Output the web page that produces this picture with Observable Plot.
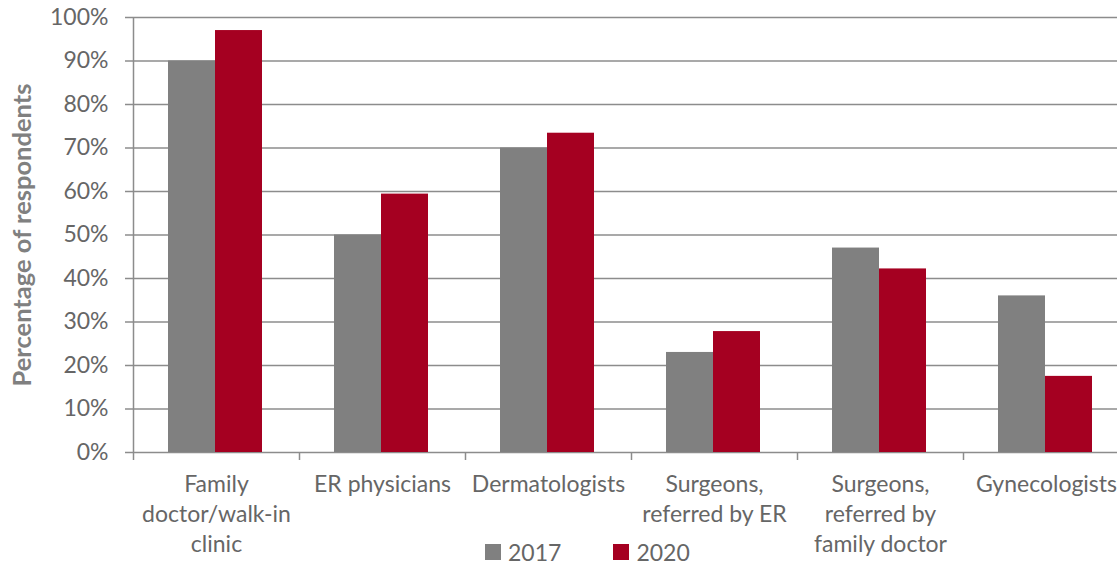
<!DOCTYPE html>
<html><head><meta charset="utf-8">
<script src="https://cdn.jsdelivr.net/npm/d3@7"></script>
<script src="https://cdn.jsdelivr.net/npm/@observablehq/plot@0.6"></script>
<style>
html,body{margin:0;padding:0;background:#fff;overflow:hidden;width:1117px;height:565px}
#chart{position:relative;width:1117px;height:565px;overflow:hidden}
#legend{position:absolute;left:485px;top:537px;height:30px;display:flex;align-items:center;font-family:Lato,sans-serif;font-size:23px;color:#666;white-space:nowrap}
#legend .item{display:flex;align-items:center;margin-right:52px}
#legend .sw{width:16px;height:16px;margin-right:7px}
</style></head><body><div id="chart"></div>
<script>
const categories = ["Family doctor/walk-in clinic","ER physicians","Dermatologists","Surgeons, referred by ER","Surgeons, referred by family doctor","Gynecologists"];
const tickLabels = ["Family\ndoctor/walk-in\nclinic","ER physicians","Dermatologists","Surgeons,\nreferred by ER","Surgeons,\nreferred by\nfamily doctor","Gynecologists"];
const years = ["2017","2020"];
const values2017 = [90,50,70,23,47,36];
const values2020 = [97,59.4,73.4,27.8,42.2,17.5];
const colors = ["#808080","#a50021"];
const yTicks = [0,10,20,30,40,50,60,70,80,90,100];
const yLabel = "Percentage of respondents";

const W = 1117, H = 565, mL = 133, mR = -12, mT = 17, mB = 113;
const step = (W - mL - mR) / categories.length;
const frameH = H - mT - mB;
const barW = 47, gap = 35;
const rows2017 = categories.map((c,i)=>({category:c, year:years[0], value:values2017[i]}));
const rows2020 = categories.map((c,i)=>({category:c, year:years[1], value:values2020[i]}));
const axisColor = "#8c8c8c";

const chart = Plot.plot({
  width: W, height: H, marginLeft: mL, marginRight: mR, marginTop: mT, marginBottom: mB,
  style: {fontFamily: "Lato, sans-serif", fontSize: "23px", color: "#666", background: "white"},
  x: {domain: categories, padding: 0, axis: null},
  y: {domain: [0,100], axis: null},
  color: {domain: years, range: colors},
  marks: [
    Plot.ruleY(yTicks, {y: d=>d, stroke: axisColor, strokeWidth: 1.5, insetLeft: -8}),
    Plot.barY(rows2017, {x: "category", y: "value", fill: "year", insetLeft: gap, insetRight: step - gap - barW}),
    Plot.barY(rows2020, {x: "category", y: "value", fill: "year", insetLeft: gap + barW, insetRight: step - gap - 2*barW}),
    Plot.ruleX([categories[0]], {x: d=>d, dx: -step/2, stroke: axisColor, strokeWidth: 1.5}),
    Plot.ruleX(categories, {x: d=>d, dx: -step/2, insetTop: frameH, insetBottom: -8, stroke: axisColor, strokeWidth: 1.5}),
    Plot.axisY(yTicks, {tickSize: 0, tickPadding: 25, tickFormat: d => d + "%", fontSize: 23, fill: "#666", label: null}),
    Plot.axisX({tickSize: 0, tickPadding: 18, tickFormat: d => tickLabels[categories.indexOf(d)], fontSize: 23, lineHeight: 1.3, fill: "#666", label: null}),
    Plot.text([yLabel], {frameAnchor: "left", textAnchor: "middle", rotate: -90, dx: -111, fontSize: 25.5, fontWeight: "bold", fill: "#808080"})
  ]
});
const root = document.getElementById("chart");
root.appendChild(chart);

const legend = d3.select(root).append("div").attr("id","legend");
const items = legend.selectAll(".item").data(years).join("div").attr("class","item");
items.append("div").attr("class","sw").style("background",(d,i)=>colors[i]);
items.append("span").text(d=>d);
</script>
</body></html>
